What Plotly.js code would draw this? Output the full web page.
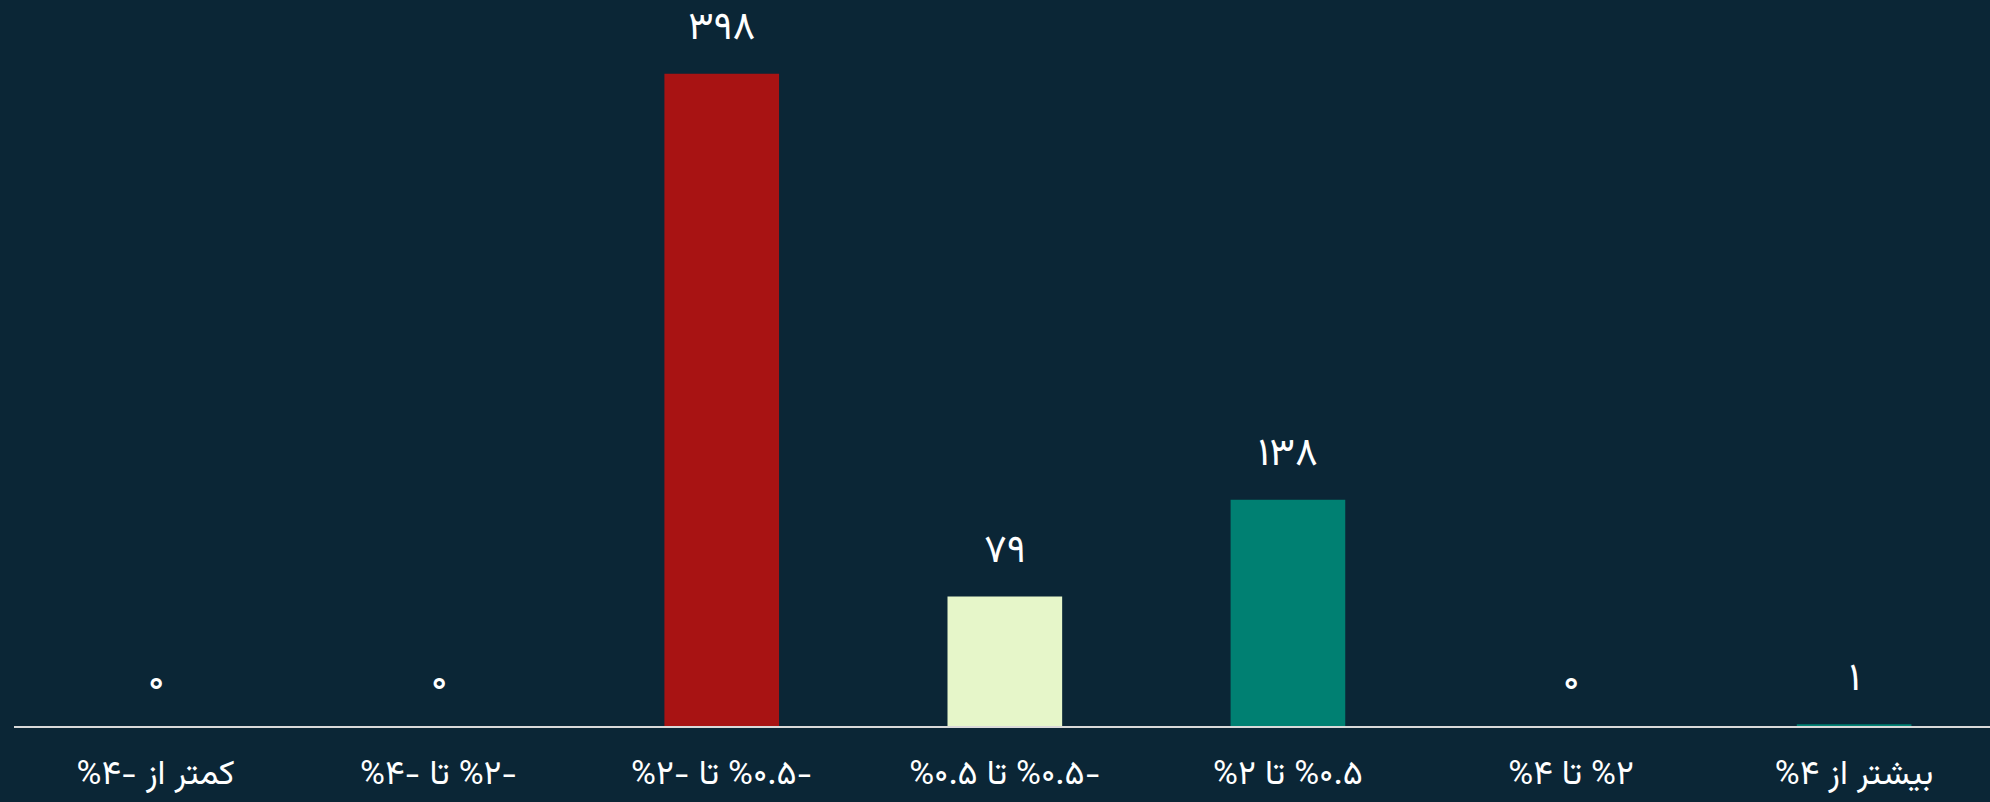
<!DOCTYPE html>
<html>
<head>
<meta charset="utf-8">
<script src="https://cdn.plot.ly/plotly-3.0.1.min.js"></script>
<style>
  html, body { margin: 0; padding: 0; background: #0b2636; }
  #chart { width: 1990px; height: 802px; }
</style>
</head>
<body>
<div id="chart"></div>
<script>
// ---- data ----
const categories = [
  "کمتر از -۴%",
  "-۲% تا -۴%",
  "-۰.۵% تا -۲%",
  "-۰.۵% تا ۰.۵%",
  "۰.۵% تا ۲%",
  "۲% تا ۴%",
  "بیشتر از ۴%"
];
const counts = [0, 0, 398, 79, 138, 0, 1];
const barColors = ["#6b0d0d", "#8a1010", "#a81313", "#e6f6c9", "#008072", "#008072", "#008072"];

// ---- helpers ----
const faDigits = "۰۱۲۳۴۵۶۷۸۹";
function toFa(n) { return String(n).replace(/[0-9]/g, d => faDigits[+d]); }
// RTL embedding + Arabic letter mark so the label reads right-to-left
function rtl(s) { return "\u202B\u061C" + s + "\u202C"; }

const FONT = "Vazirmatn, Vazir, 'Noto Sans Arabic', 'Noto Naskh Arabic', 'DejaVu Sans', sans-serif";
const xIdx = categories.map((_, i) => i);

const trace = {
  type: "bar",
  x: xIdx,
  y: counts,
  marker: { color: barColors, line: { width: 0 } },
  hoverinfo: "none"
};

const annotations = counts.map((v, i) => ({
  x: i, y: v, xref: "x", yref: "y",
  text: toFa(v),
  showarrow: false,
  yanchor: "middle",
  yshift: 44,
  borderpad: 0,
  font: { family: FONT, size: 39, color: "#ffffff" }
}));

const layout = {
  width: 1990, height: 802,
  paper_bgcolor: "#0b2636",
  plot_bgcolor: "#0b2636",
  margin: { l: 14, r: 0, t: 0, b: 76, pad: 0 },
  bargap: 0.595,
  showlegend: false,
  xaxis: {
    range: [-0.5, 6.48],
    tickmode: "array",
    tickvals: xIdx,
    ticktext: categories.map(rtl),
    showgrid: false, zeroline: false,
    showline: true, linecolor: "#d9d9d9", linewidth: 2,
    ticks: "outside", ticklen: 15, tickcolor: "rgba(0,0,0,0)",
    tickfont: { family: FONT, size: 34, color: "#ffffff" },
    fixedrange: true
  },
  yaxis: {
    range: [0, 443],
    visible: false, showgrid: false, zeroline: false,
    fixedrange: true
  },
  annotations: annotations
};

Plotly.newPlot("chart", [trace], layout, { staticPlot: true, displayModeBar: false });
</script>
</body>
</html>
